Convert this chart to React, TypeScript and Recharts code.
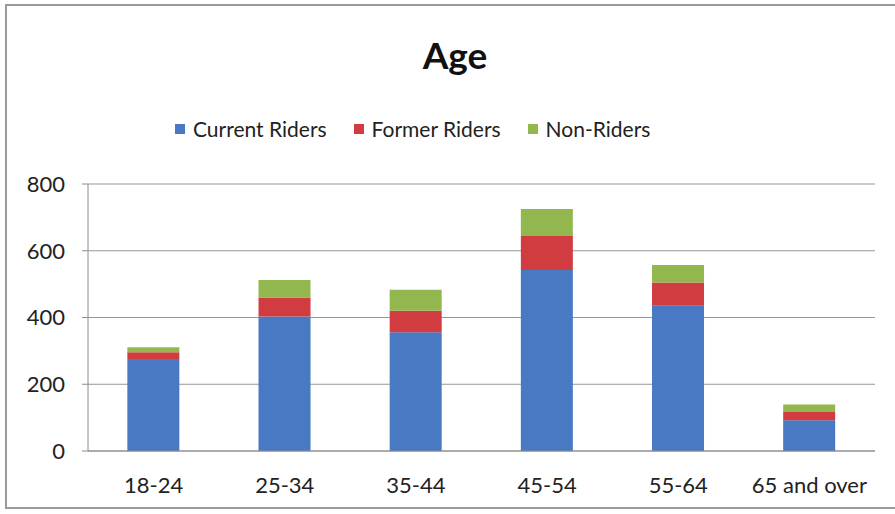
import { Bar, BarChart, CartesianGrid, Legend, XAxis, YAxis } from 'recharts';

const ageGroups = ['18-24', '25-34', '35-44', '45-54', '55-64', '65 and over'];
const currentRiders = [276, 403, 356, 542, 435, 92];
const formerRiders = [20, 57, 64, 102, 70, 25];
const nonRiders = [15, 52, 63, 81, 52, 22];
const yTicks = [0, 200, 400, 600, 800];
const boundaryTicks = [0, 1, 2, 3, 4, 5, 6];

const SERIES = [
  { key: 'current', name: 'Current Riders', color: '#4a79c3' },
  { key: 'former', name: 'Former Riders', color: '#d03c40' },
  { key: 'non', name: 'Non-Riders', color: '#93b74f' },
];

const FONT = 'Lato, "Open Sans", sans-serif';
const AXIS_GRAY = '#8c8c8c';

const chartData = ageGroups.map((age, i) => ({
  age,
  current: currentRiders[i],
  former: formerRiders[i],
  non: nonRiders[i],
}));

function LegendRow() {
  return (
    <div style={{ display: 'flex', alignItems: 'center', fontFamily: FONT, fontSize: 21, color: '#222' }}>
      {SERIES.map((s) => (
        <div key={s.key} style={{ display: 'flex', alignItems: 'center', marginRight: 27 }}>
          <span style={{ display: 'inline-block', width: 10, height: 10, background: s.color, marginRight: 8 }} />
          <span>{s.name}</span>
        </div>
      ))}
    </div>
  );
}

export default function App() {
  return (
    <div style={{ position: 'fixed', left: 0, top: 0, width: 895, height: 514, background: '#fff', overflow: 'hidden' }}>
      {/* frame: left, top and bottom edges only, runs off the right side */}
      <div
        style={{
          position: 'absolute',
          left: 5,
          top: 4,
          width: 1000,
          height: 505,
          boxShadow: 'inset 2px 2px 0 #9a9a9a, inset 0 -2px 0 #9a9a9a',
        }}
      />
      <div
        style={{
          position: 'absolute',
          left: 0,
          top: 32,
          width: 910,
          textAlign: 'center',
          fontFamily: FONT,
          fontWeight: 700,
          fontSize: 37,
          color: '#111',
        }}
      >
        Age
      </div>
      <div style={{ position: 'absolute', top: 0, left: 0 }}>
        <BarChart
          width={895}
          height={514}
          data={chartData}
          barCategoryGap="30%"
          margin={{ top: 159, right: 20, bottom: 0, left: 10 }}
        >
          <CartesianGrid vertical={false} stroke={AXIS_GRAY} strokeOpacity={0.9} />
          <XAxis
            xAxisId="bounds"
            type="number"
            domain={[0, 6]}
            ticks={boundaryTicks}
            tick={false}
            axisLine={false}
            tickLine={{ stroke: AXIS_GRAY }}
            tickSize={5}
            height={0}
          />
          <XAxis
            dataKey="age"
            axisLine={{ stroke: AXIS_GRAY }}
            tickLine={false}
            tick={{ fill: '#222', fontSize: 22, fontFamily: FONT }}
            tickMargin={20}
            height={63}
          />
          <YAxis
            domain={[0, 800]}
            ticks={yTicks}
            width={78}
            axisLine={{ stroke: AXIS_GRAY }}
            tickLine={{ stroke: AXIS_GRAY }}
            tickSize={6}
            tickMargin={17}
            tick={{ fill: '#222', fontSize: 22, fontFamily: FONT }}
          />
          <Legend
            verticalAlign="top"
            content={() => <LegendRow />}
            wrapperStyle={{ top: 116, left: 175, width: 'auto' }}
          />
          {SERIES.map((s) => (
            <Bar key={s.key} dataKey={s.key} name={s.name} stackId="a" fill={s.color} isAnimationActive={false} />
          ))}
        </BarChart>
      </div>
    </div>
  );
}
